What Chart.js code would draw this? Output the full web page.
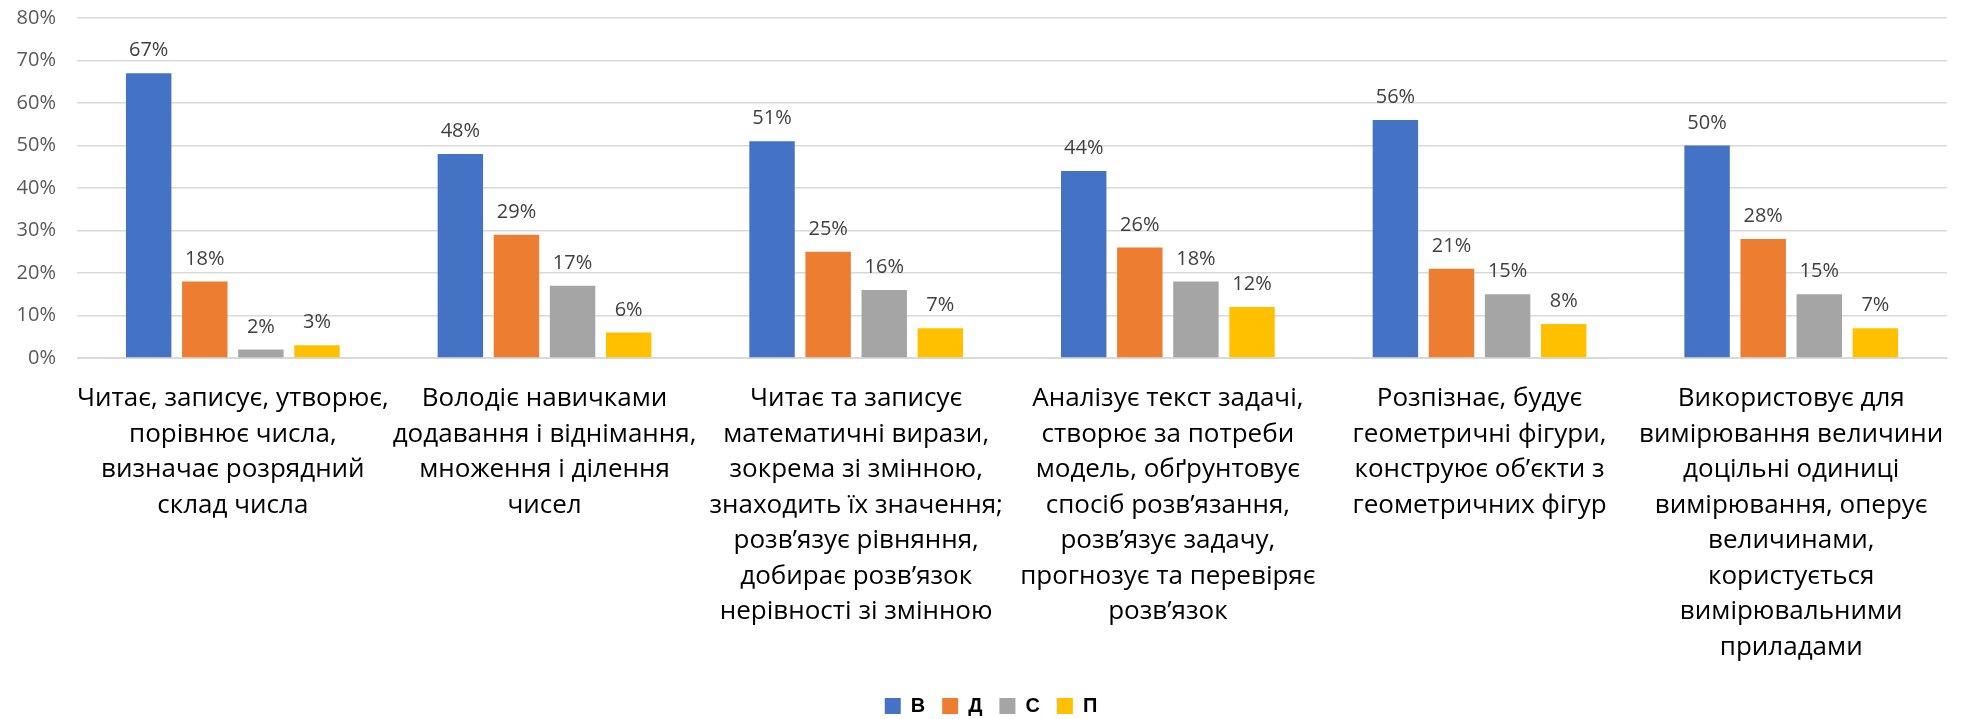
<!DOCTYPE html>
<html>
<head>
    <title>Рівень сформованості умінь</title>
    <script src="https://cdn.jsdelivr.net/npm/chart.js@4.4.0/dist/chart.umd.min.js"></script>
    <style>
    body { margin: 0; background: #fff; }
    #container { width: 1968px; height: 719px; }
    </style>
</head>
<body>
  <div id="container">
    <canvas id="myCanvas"></canvas>
  </div>

  <script>
    // categories (multi-line labels as in the original)
    var categories = [
      ["Читає, записує, утворює,", "порівнює числа,", "визначає розрядний", "склад числа"],
      ["Володіє навичками", "додавання і віднімання,", "множення і ділення", "чисел"],
      ["Читає та записує", "математичні вирази,", "зокрема зі змінною,", "знаходить їх значення;", "розв’язує рівняння,", "добирає розв’язок", "нерівності зі змінною"],
      ["Аналізує текст задачі,", "створює за потреби", "модель, обґрунтовує", "спосіб розв’язання,", "розв’язує задачу,", "прогнозує та перевіряє", "розв’язок"],
      ["Розпізнає, будує", "геометричні фігури,", "конструює об’єкти з", "геометричних фігур"],
      ["Використовує для", "вимірювання величини", "доцільні одиниці", "вимірювання, оперує", "величинами,", "користується", "вимірювальними", "приладами"]
    ];
    var seriesNames = ["В", "Д", "С", "П"];
    var valuesV = [67, 48, 51, 44, 56, 50];
    var valuesD = [18, 29, 25, 26, 21, 28];
    var valuesS = [2, 17, 16, 18, 15, 15];
    var valuesP = [3, 6, 7, 12, 8, 7];
    var colors = ["#4472C4", "#ED7D31", "#A5A5A5", "#FFC000"];
    var yMax = 80, yStep = 10;

    // value labels above each bar
    var barLabels = {
      id: 'barLabels',
      afterDatasetsDraw: function(chart) {
        var ctx = chart.ctx;
        ctx.save();
        ctx.font = '20px "Open Sans"';
        ctx.fillStyle = '#404040';
        ctx.textAlign = 'center';
        ctx.textBaseline = 'alphabetic';
        chart.data.datasets.forEach(function(ds, i) {
          chart.getDatasetMeta(i).data.forEach(function(bar, j) {
            ctx.fillText(ds.data[j] + '%', bar.x, bar.y - 17);
          });
        });
        ctx.restore();
      }
    };

    // the original legend sits a little right of the canvas centre
    var legendShift = {
      id: 'legendShift',
      afterLayout: function(chart) {
        chart.legend.left += 17;
        chart.legend.right += 17;
      }
    };

    var allValues = [valuesV, valuesD, valuesS, valuesP];
    new Chart(document.getElementById("myCanvas"), {
      type: 'bar',
      data: {
        labels: categories,
        datasets: seriesNames.map(function(name, i) {
          return {
            label: name,
            data: allValues[i],
            backgroundColor: colors[i],
            categoryPercentage: 0.72,
            barPercentage: 0.81
          };
        })
      },
      plugins: [barLabels, legendShift],
      options: {
        responsive: true,
        maintainAspectRatio: false,
        animation: false,
        layout: { padding: { top: 18, right: 20, left: 0, bottom: -7 } },
        plugins: {
          tooltip: { enabled: false },
          legend: {
            position: 'bottom',
            labels: {
              boxWidth: 16,
              boxHeight: 16,
              padding: 17,
              color: '#000',
              font: { family: '"Liberation Sans"', size: 20, weight: 'bold' }
            }
          }
        },
        scales: {
          x: {
            grid: { display: false, drawTicks: false },
            border: { color: '#d9d9d9', width: 1 },
            ticks: {
              autoSkip: false,
              maxRotation: 0,
              padding: 23,
              color: '#000',
              font: { family: '"Open Sans"', size: 26, lineHeight: 1.365 }
            },
            afterFit: function(scale) { scale.height = 321; }
          },
          y: {
            min: 0,
            max: yMax,
            grid: { color: '#d9d9d9', lineWidth: 1.5, drawTicks: false },
            border: { display: false },
            ticks: {
              stepSize: yStep,
              padding: 21,
              color: '#595959',
              font: { family: '"Open Sans"', size: 20 },
              callback: function(v) { return v + '%'; }
            },
            afterFit: function(scale) {
              scale.width = 77;
              scale.paddingTop = 0;
              scale.paddingBottom = 0;
            }
          }
        }
      }
    });
  </script>
</body>
</html>
